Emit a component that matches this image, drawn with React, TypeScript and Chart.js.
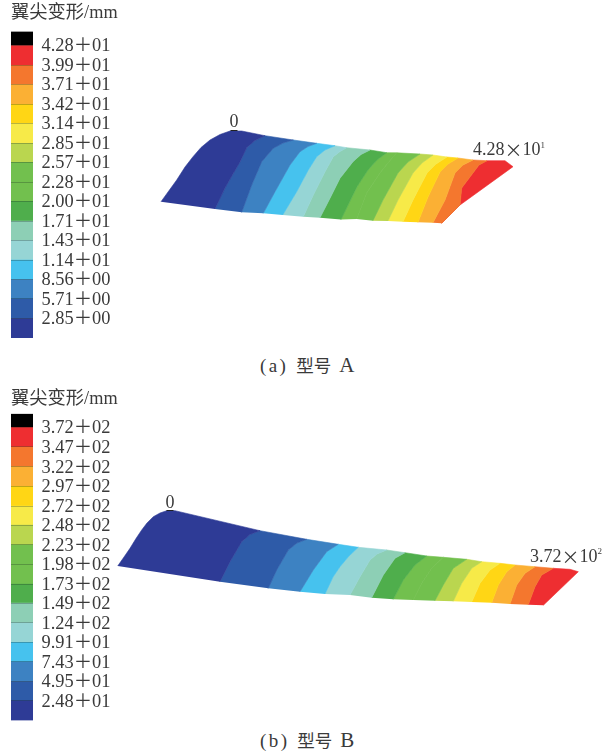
import React, { useEffect, useRef } from "react";
import { Chart, registerables } from "chart.js";

Chart.register(...registerables);

const SERIF = '"Liberation Serif", "Noto Sans CJK SC"';
const INK = "#3a3a3a";

// contour band colours, lowest to highest deformation
const bandColors = ["#2E3B96", "#2E5BA8", "#3D82C2", "#46C2EE", "#96D5D5", "#8DCFB5", "#4FAE4C", "#72C04E", "#72C04E", "#BAD64F", "#F7EA48", "#FFD615", "#FBB034", "#F4772E", "#EE2E31"];
const overflowColor = "#000000";

const titleText = "翼尖变形/mm";

const levelsA = [2.85, 5.71, 8.56, 11.4, 14.3, 17.1, 20.0, 22.8, 25.7, 28.5, 31.4, 34.2, 37.1, 39.9, 42.8];
const levelLabelsA = ["2.85＋00", "5.71＋00", "8.56＋00", "1.14＋01", "1.43＋01", "1.71＋01", "2.00＋01", "2.28＋01", "2.57＋01", "2.85＋01", "3.14＋01", "3.42＋01", "3.71＋01", "3.99＋01", "4.28＋01"];
const scaleMaxA = 44.84;

const levelsB = [24.8, 49.5, 74.3, 99.1, 124, 149, 173, 198, 223, 248, 272, 297, 322, 347, 372];
const levelLabelsB = ["2.48＋01", "4.95＋01", "7.43＋01", "9.91＋01", "1.24＋02", "1.49＋02", "1.73＋02", "1.98＋02", "2.23＋02", "2.48＋02", "2.72＋02", "2.97＋02", "3.22＋02", "3.47＋02", "3.72＋02"];
const scaleMaxB = 389;

type P = [number, number];

// wing A contour lines: root edge, 14 iso-lines, tip edge (trailing edge to leading edge)
const contoursA: P[][] = [
  [[161, 201.7], [168, 192], [176.7, 180], [185, 167], [193, 156.7], [201, 147.5], [210, 140], [220, 134.5], [230, 131], [241.7, 131]],
  [[215, 209], [225, 188], [233, 174], [240, 162], [246.7, 147.7], [255, 140.5], [265, 135.7]],
  [[241.7, 212.3], [251.7, 185], [261.7, 161.7], [273.3, 148.3], [283, 143], [293.3, 140]],
  [[263.3, 213.3], [275, 191.7], [290, 165], [300, 151.7], [308, 146.5], [316.7, 143.3]],
  [[282.7, 215], [296.7, 191.7], [308.3, 170], [316.7, 156.7], [325, 150], [335, 145.7]],
  [[303.3, 216.7], [313.3, 195], [325, 171.7], [333.3, 156.7], [340, 151.5], [346.7, 147.7]],
  [[320, 217.7], [330, 198.3], [340, 178.3], [353, 161.7], [361, 154.5], [370, 150]],
  [[341, 219.5], [357, 186.7], [368, 170], [377, 160], [386.7, 152.7]],
  [[356.7, 219], [366.7, 193], [380, 173], [388, 163], [396.7, 152.8]],
  [[373, 220.7], [383, 200], [398, 173], [408, 162], [420, 154]],
  [[388, 221], [398, 200], [413, 173], [422, 163], [433, 155]],
  [[403, 221.7], [413, 200], [427, 173], [436, 164], [447, 157]],
  [[418, 222.3], [428, 197], [440, 172], [448, 164], [458, 158]],
  [[433, 222.7], [445, 200], [455, 173], [463, 165], [473, 160]],
  [[441.7, 223.3], [460, 205], [461.7, 188], [473, 173], [479, 165], [487, 160.7]],
  [[441.7, 223.3], [460, 205], [513, 166.7], [505, 160.7], [487, 160.7]],
];

// wing B contour lines
const contoursB: P[][] = [
  [[117.7, 566], [124, 557], [130, 548.3], [136, 538.5], [141.7, 530], [147, 523], [153.3, 516.7], [160, 513], [166.7, 510.7], [175, 510.7]],
  [[220, 581.7], [230, 561.7], [241.7, 541.7], [250, 534.5], [260, 530.7]],
  [[268.3, 588.3], [276.7, 570], [288.3, 550], [297, 543], [306.7, 539.3]],
  [[300, 591.7], [313.3, 570], [326.7, 551.7], [338.3, 544.3]],
  [[325, 594], [333, 577], [340, 566.7], [349, 556], [358.3, 547.3]],
  [[350, 595], [360, 576.7], [370, 560], [377, 554], [386.7, 550]],
  [[371.7, 597.7], [383.3, 575], [395, 558.3], [405, 552.7]],
  [[393.3, 599.3], [403.3, 580], [415, 565], [426.7, 556]],
  [[413.3, 600], [421.7, 583.3], [431.7, 568.3], [443.3, 557.3]],
  [[435, 600.7], [443.3, 585], [453.3, 568.3], [466.7, 559.3]],
  [[453.3, 601.3], [461.7, 583.3], [471.7, 568.3], [481.7, 561.7]],
  [[471.7, 602], [480, 583.3], [490, 570], [500, 563.3]],
  [[491.7, 602.7], [498.3, 585], [506.7, 571.7], [515, 565]],
  [[510, 604], [516.7, 585], [525, 573.3], [535, 566.7]],
  [[528.3, 604.7], [535, 586.7], [541.7, 575], [553.3, 568.3]],
  [[543.3, 605.3], [578.3, 571.7], [570, 569.3], [553.3, 568.3]],
];

const markerA: P = [234, 130.5];
const markerB: P = [170, 510.5];
const zeroLabel = "0";
const zeroLabelA: P = [234, 122];
const zeroLabelB: P = [170, 503];
const maxLabelA = { at: [473, 150.5] as P, value: "4.28", times: "×", base: "10", exp: "1" };
const maxLabelB = { at: [530, 557] as P, value: "3.72", times: "×", base: "10", exp: "2" };

const captionA = { tag: "(a)", model: "型号", name: "A" };
const captionB = { tag: "(b)", model: "型号", name: "B" };

const polygonPlugin = {
  id: "polygonPlugin",
  beforeDatasetDraw(chart: any, args: any) {
    const ds = chart.data.datasets[args.index];
    if (!ds.polygon) return;
    const ctx = chart.ctx;
    ctx.save();
    ctx.beginPath();
    args.meta.data.forEach((pt: any, i: number) => (i ? ctx.lineTo(pt.x, pt.y) : ctx.moveTo(pt.x, pt.y)));
    ctx.closePath();
    ctx.fillStyle = ds.backgroundColor;
    ctx.fill();
    ctx.restore();
  },
};

const labelPlugin = {
  id: "labelPlugin",
  afterDatasetsDraw(chart: any, _a: any, opts: any) {
    const { ctx, scales } = chart;
    const X = (v: number) => scales.x.getPixelForValue(v);
    const Y = (v: number) => scales.y.getPixelForValue(v);
    ctx.save();
    ctx.fillStyle = INK;
    ctx.textBaseline = "middle";
    ctx.textAlign = "center";
    ctx.font = `18px ${SERIF}`;
    ctx.fillText(zeroLabel, X(opts.zero[0]), Y(opts.zero[1]));
    ctx.textAlign = "left";
    const m = opts.max;
    let x = X(m.at[0]);
    const y = Y(m.at[1]);
    ctx.fillText(m.value, x, y);
    x += ctx.measureText(m.value).width;
    ctx.font = `18px "Noto Sans CJK SC"`;
    ctx.fillText(m.times, x, y);
    x += 18;
    ctx.font = `18px ${SERIF}`;
    ctx.fillText(m.base, x, y);
    x += ctx.measureText(m.base).width;
    ctx.font = `9px ${SERIF}`;
    ctx.fillText(m.exp, x, y - 5);
    ctx.restore();
  },
};

function Wing({ contours, marker, zero, max, top, height }: any) {
  const ref = useRef<HTMLCanvasElement>(null);
  useEffect(() => {
    const datasets: any[] = bandColors.map((color, i) => ({
      polygon: true,
      data: [...contours[i], ...[...contours[i + 1]].reverse()].map(([x, y]: P) => ({ x, y })),
      showLine: true,
      tension: 0,
      pointRadius: 0,
      backgroundColor: color,
      borderColor: color,
      borderWidth: 0.6,
    }));
    datasets.unshift({
      data: [{ x: marker[0], y: marker[1] }],
      pointStyle: "line",
      pointRadius: 3.5,
      borderColor: "#222",
      borderWidth: 1,
      showLine: false,
    });
    const chart = new Chart(ref.current!, {
      type: "scatter",
      data: { datasets },
      plugins: [polygonPlugin, labelPlugin],
      options: {
        animation: false,
        responsive: false,
        layout: { padding: 0, autoPadding: false },
        scales: {
          x: { type: "linear", min: 0, max: 604, display: false },
          y: { type: "linear", min: top, max: top + height, reverse: true, display: false },
        },
        plugins: { legend: { display: false }, tooltip: { enabled: false }, labelPlugin: { zero, max } as any },
      },
    } as any);
    return () => chart.destroy();
  }, []);
  return <canvas ref={ref} width={604} height={height} style={{ position: "absolute", left: 0, top, width: 604, height }} />;
}

function ColorBar({ levels, labels, scaleMax, top, height, padBottom, titleTop, titleBottom }: any) {
  const ref = useRef<HTMLCanvasElement>(null);
  useEffect(() => {
    const datasets: any[] = bandColors.map((color, i) => ({
      data: [[i ? levels[i - 1] : 0, levels[i]]],
      backgroundColor: color,
      grouped: false,
      barPercentage: 1,
      categoryPercentage: 1,
      borderWidth: 0,
    }));
    datasets.push({
      data: [[levels[levels.length - 1], scaleMax]],
      backgroundColor: overflowColor,
      grouped: false,
      barPercentage: 1,
      categoryPercentage: 1,
      borderWidth: 0,
    });
    const chart = new Chart(ref.current!, {
      type: "bar",
      data: { labels: [""], datasets },
      options: {
        animation: false,
        responsive: false,
        layout: { padding: { left: 11, right: 0, top: 0, bottom: padBottom }, autoPadding: false },
        scales: {
          x: { display: false },
          y: {
            type: "linear",
            position: "right",
            min: 0,
            max: scaleMax,
            border: { display: false },
            afterFit: (s: any) => { s.width = 100; },
            afterBuildTicks: (s: any) => { s.ticks = levels.map((value: number) => ({ value })); },
            grid: { z: 1, color: "rgba(20,40,30,0.28)", lineWidth: 1, drawTicks: false, drawOnChartArea: true },
            ticks: {
              autoSkip: false,
              padding: 8.5,
              labelOffset: 1,
              color: INK,
              font: { family: SERIF, size: 18.4 },
              callback: (_v: any, i: number) => labels[i],
            },
          },
        },
        plugins: {
          legend: { display: false },
          tooltip: { enabled: false },
          title: {
            display: true,
            text: titleText,
            align: "start",
            color: INK,
            font: { family: SERIF, size: 18.3, weight: "normal", lineHeight: 1.2 },
            padding: { top: titleTop, bottom: titleBottom },
          },
        },
      },
    } as any);
    return () => chart.destroy();
  }, []);
  return <canvas ref={ref} width={133} height={height} style={{ position: "absolute", left: 0, top, width: 133, height }} />;
}

function Caption({ parts, top }: any) {
  return (
    <div style={{ position: "absolute", left: 260, top, fontFamily: SERIF, fontSize: 19, lineHeight: "22px", color: INK, whiteSpace: "pre" }}>
      <span style={{ letterSpacing: 2.4 }}>{parts.tag}</span>
      <span style={{ marginLeft: 8, fontSize: 17.5 }}>{parts.model}</span>
      <span style={{ marginLeft: 8, fontSize: 21 }}>{parts.name}</span>
    </div>
  );
}

export default function App() {
  return (
    <div style={{ position: "absolute", left: 0, top: 0, width: 604, height: 751, overflow: "hidden", background: "#fff" }}>
      <Wing contours={contoursA} marker={markerA} zero={zeroLabelA} max={maxLabelA} top={100} height={140} />
      <Wing contours={contoursB} marker={markerB} zero={zeroLabelB} max={maxLabelB} top={490} height={130} />
      <ColorBar levels={levelsA} labels={levelLabelsA} scaleMax={scaleMaxA} top={0} height={360} padBottom={22} titleTop={2} titleBottom={7.6} />
      <ColorBar levels={levelsB} labels={levelLabelsB} scaleMax={scaleMaxB} top={384} height={358} padBottom={21.5} titleTop={4} titleBottom={3.9} />
      <Caption parts={captionA} top={354} />
      <Caption parts={captionB} top={729} />
    </div>
  );
}
